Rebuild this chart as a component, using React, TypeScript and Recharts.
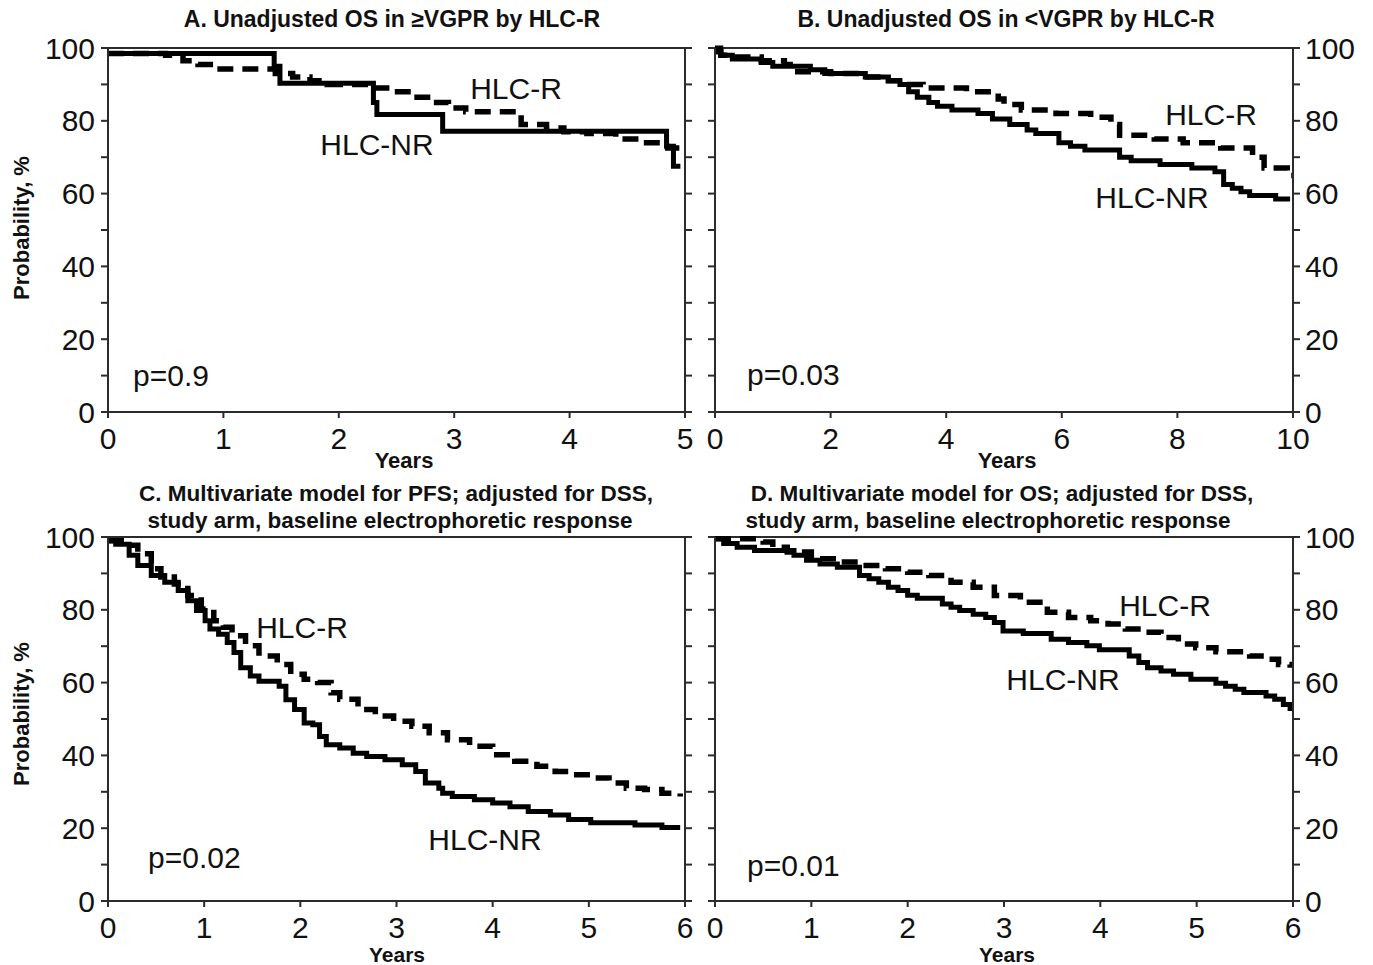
import React from 'react';
import { LineChart, Line, XAxis, YAxis, ReferenceLine } from 'recharts';

const FONT = '"Liberation Sans", Arial, Helvetica, sans-serif';
const INK = '#111';
const AXIS = '#2b2b2b';

// y ticks every 10, labels every 20
const probTicks = [0, 10, 20, 30, 40, 50, 60, 70, 80, 90, 100];
const yearTicks5 = [0, 1, 2, 3, 4, 5];
const yearTicks10 = [0, 2, 4, 6, 8, 10];
const yearTicks6 = [0, 1, 2, 3, 4, 5, 6];

// A. Unadjusted OS in >=VGPR by HLC-R
const aNrYears = [0, 1.44, 1.49, 2.3, 2.33, 2.9, 4.84, 4.9, 4.96];
const aNrProb = [98.5, 95, 90.3, 85, 81.7, 77.1, 73, 67.5, 67.5];
const aRYears = [0, 0.5, 0.65, 0.78, 0.92, 1.45, 1.6, 1.75, 1.9, 2.3, 2.45, 2.65, 2.8, 2.95, 3.1, 3.58, 3.8, 3.95, 4.15, 4.4, 4.6, 4.85, 4.97];
const aRProb = [98.5, 98, 96.5, 95.5, 94.2, 93, 92, 91, 90, 89, 88, 86.5, 85, 83.5, 82.5, 79, 78, 77, 76.5, 75, 74, 72.5, 72.5];

// B. Unadjusted OS in <VGPR by HLC-R
const bNrYears = [0, 0.1, 0.3, 0.8, 1.0, 1.65, 1.9, 2.6, 3.0, 3.2, 3.35, 3.5, 3.7, 3.85, 4.1, 4.55, 4.8, 5.1, 5.4, 5.55, 5.95, 6.15, 6.4, 7.0, 7.2, 7.7, 8.25, 8.65, 8.8, 8.95, 9.1, 9.25, 9.7, 9.95];
const bNrProb = [100, 98, 97, 96, 95, 94, 93, 92, 91, 90, 88, 86.5, 85, 84, 83, 82, 80.5, 79, 77.5, 76.5, 74, 73, 72, 70, 69, 68, 67, 66, 62.5, 61.5, 60.5, 59.5, 58.5, 58.5];
const bRYears = [0, 0.1, 0.3, 0.8, 1.2, 1.3, 2.0, 2.5, 3.0, 3.3, 3.6, 4.35, 4.9, 5.0, 5.3, 5.9, 6.5, 6.85, 7.0, 7.6, 8.1, 8.75, 9.3, 9.5, 9.9, 10];
const bRProb = [99, 98, 97.5, 96.5, 95.5, 93.5, 93, 92, 91, 90, 89, 88, 86, 84.5, 83, 82, 81, 79, 76, 75, 74, 72.5, 70, 67, 65, 65];

// C. Multivariate model for PFS
const cNrYears = [0, 0.08, 0.22, 0.31, 0.45, 0.59, 0.73, 0.83, 0.92, 1.01, 1.06, 1.15, 1.24, 1.31, 1.38, 1.48, 1.57, 1.78, 1.85, 1.94, 2.04, 2.13, 2.2, 2.27, 2.41, 2.55, 2.69, 2.88, 3.06, 3.2, 3.3, 3.44, 3.48, 3.58, 3.81, 4.0, 4.18, 4.37, 4.6, 4.79, 5.02, 5.48, 5.76, 5.95];
const cNrProb = [99, 98, 95, 92.2, 89.4, 87.6, 85.3, 82.5, 79.8, 77, 74.7, 73.3, 71, 68.3, 64.1, 61.8, 60.4, 59, 55.3, 52.6, 48.9, 48.4, 45.2, 42.9, 42, 40.6, 39.7, 38.8, 37.4, 35.6, 32.4, 31, 29.6, 28.7, 27.8, 26.9, 25.9, 24.6, 23.6, 22.4, 21.5, 20.9, 20.2, 20.2];
const cRYears = [0, 0.17, 0.31, 0.45, 0.55, 0.69, 0.83, 0.97, 1.1, 1.2, 1.29, 1.43, 1.57, 1.76, 1.9, 2.04, 2.18, 2.32, 2.41, 2.6, 2.78, 2.97, 3.16, 3.34, 3.53, 3.76, 4.0, 4.23, 4.46, 4.65, 4.83, 5.02, 5.21, 5.39, 5.58, 5.76, 5.95];
const cRProb = [99, 97.7, 95.4, 91.3, 89, 87.1, 83.9, 80.2, 77, 75.2, 72.9, 70.1, 67.3, 65, 62.3, 60.9, 60, 57.2, 55.4, 52.6, 50.8, 49.4, 48, 46.2, 44.3, 42.5, 40.2, 38.4, 37, 35.6, 34.7, 33.8, 32.4, 31, 30.6, 29.6, 28.7];

// D. Multivariate model for OS
const dNrYears = [0, 0.09, 0.23, 0.41, 0.82, 0.95, 1.09, 1.27, 1.5, 1.6, 1.7, 1.8, 1.9, 2.0, 2.1, 2.36, 2.45, 2.54, 2.68, 2.81, 2.9, 2.99, 3.2, 3.49, 3.67, 3.86, 3.99, 4.3, 4.4, 4.49, 4.63, 4.76, 4.94, 5.2, 5.3, 5.4, 5.49, 5.72, 5.81, 5.9, 5.97];
const dNrProb = [99.5, 98.2, 97.2, 96.3, 95, 93.6, 92.6, 91.7, 89.4, 88.5, 87.6, 86.2, 85.3, 84, 83.2, 81.6, 80.7, 79.8, 78.8, 77.9, 76.5, 74.2, 73.5, 71.9, 71, 70.1, 69, 67.3, 65.5, 64.1, 63.2, 62.3, 60.9, 59.8, 59, 58.2, 57.3, 56.3, 55.4, 54, 52.2];
const dRYears = [0, 0.5, 0.6, 0.75, 1.0, 1.27, 1.54, 1.77, 2.0, 2.22, 2.45, 2.68, 2.9, 3.17, 3.45, 3.67, 3.9, 4.08, 4.26, 4.44, 4.63, 4.81, 4.99, 5.2, 5.55, 5.72, 5.85, 5.97];
const dRProb = [99.5, 98.6, 97.2, 95.9, 94, 93.1, 92.2, 91.3, 90.3, 89.4, 87.6, 86.2, 83.9, 82.1, 79.3, 77.9, 77, 76.1, 74.7, 73.8, 72.4, 70.6, 69.6, 68.5, 67.3, 66.4, 65, 64.1];

type Pt = { t: number; p: number };
const zip = (t: number[], p: number[]): Pt[] => t.map((v, i) => ({ t: v, p: p[i] }));

type PanelProps = {
  x: number;
  y: number;
  w: number;
  h: number;
  maxYear: number;
  xTicks: number[];
  labelSide: 'left' | 'right';
  nr: Pt[];
  r: Pt[];
};

// one KM panel; x/y/w/h is the plot box in page pixels
const Panel = ({ x, y, w, h, maxYear, xTicks, labelSide, nr, r }: PanelProps) => {
  const pad = 70;
  const top = 20;
  const showNum = (v: number) => (v % 20 === 0 ? String(v) : '');
  const blank = () => '';
  const tickStyle = { fill: INK, fontSize: 30, fontFamily: FONT };
  const stroke = { stroke: AXIS, strokeWidth: 2 };
  return (
    <div style={{ position: 'absolute', left: x - pad, top: y - top }}>
      <LineChart width={w + pad * 2} height={h + top + 50} margin={{ top, right: 0, bottom: 0, left: 0 }}>
        <XAxis
          type="number"
          dataKey="t"
          domain={[0, maxYear]}
          ticks={xTicks}
          interval={0}
          allowDataOverflow
          height={50}
          tickSize={6}
          tickMargin={10}
          axisLine={stroke}
          tickLine={stroke}
          tick={tickStyle}
        />
        <YAxis
          yAxisId="l"
          orientation="left"
          type="number"
          domain={[0, 100]}
          ticks={probTicks}
          interval={0}
          width={pad}
          tickSize={7}
          tickMargin={6}
          axisLine={stroke}
          tickLine={stroke}
          tick={tickStyle}
          tickFormatter={labelSide === 'left' ? showNum : blank}
        />
        <YAxis
          yAxisId="r"
          orientation="right"
          type="number"
          domain={[0, 100]}
          ticks={probTicks}
          interval={0}
          width={pad}
          tickSize={7}
          tickMargin={5}
          axisLine={stroke}
          tickLine={stroke}
          tick={tickStyle}
          tickFormatter={labelSide === 'right' ? showNum : blank}
        />
        <ReferenceLine yAxisId="l" y={100} stroke={AXIS} strokeWidth={2} />
        <Line
          yAxisId="r"
          data={r}
          dataKey="p"
          type="stepAfter"
          stroke="#000"
          strokeWidth={5.5}
          strokeDasharray="16 9"
          dot={false}
          isAnimationActive={false}
        />
        <Line
          yAxisId="l"
          data={nr}
          dataKey="p"
          type="stepAfter"
          stroke="#000"
          strokeWidth={5}
          dot={false}
          isAnimationActive={false}
        />
      </LineChart>
    </div>
  );
};

const Txt = ({ x, y, size = 30, bold = false, rotate = false, anchor = 'middle', children }: any) => (
  <div
    style={{
      position: 'absolute',
      left: x,
      top: y,
      transform: `translate(${anchor === 'start' ? '0' : '-50%'}, -50%)${rotate ? ' rotate(-90deg)' : ''}`,
      fontFamily: FONT,
      fontSize: size,
      fontWeight: bold ? 700 : 400,
      lineHeight: 1,
      whiteSpace: 'nowrap',
      color: INK,
    }}
  >
    {children}
  </div>
);

export default function App() {
  return (
    <div style={{ position: 'absolute', left: 0, top: 0, width: 1373, height: 965, background: '#fff', overflow: 'hidden' }}>
      <Panel x={108} y={48} w={577} h={364} maxYear={5} xTicks={yearTicks5} labelSide="left" nr={zip(aNrYears, aNrProb)} r={zip(aRYears, aRProb)} />
      <Panel x={715} y={48} w={578} h={364} maxYear={10} xTicks={yearTicks10} labelSide="right" nr={zip(bNrYears, bNrProb)} r={zip(bRYears, bRProb)} />
      <Panel x={108} y={537} w={577} h={364} maxYear={6} xTicks={yearTicks6} labelSide="left" nr={zip(cNrYears, cNrProb)} r={zip(cRYears, cRProb)} />
      <Panel x={715} y={537} w={578} h={364} maxYear={6} xTicks={yearTicks6} labelSide="right" nr={zip(dNrYears, dNrProb)} r={zip(dRYears, dRProb)} />

      <Txt x={392} y={19} size={23} bold>A. Unadjusted OS in ≥VGPR by HLC-R</Txt>
      <Txt x={1006} y={19} size={23} bold>B. Unadjusted OS in &lt;VGPR by HLC-R</Txt>
      <Txt x={396} y={494} size={22.5} bold>C. Multivariate model for PFS; adjusted for DSS,</Txt>
      <Txt x={390} y={521} size={22.5} bold>study arm, baseline electrophoretic response</Txt>
      <Txt x={1002} y={494} size={22.5} bold>D. Multivariate model for OS; adjusted for DSS,</Txt>
      <Txt x={988} y={521} size={22.5} bold>study arm, baseline electrophoretic response</Txt>

      <Txt x={22} y={228} size={22} bold rotate>Probability, %</Txt>
      <Txt x={22} y={714} size={22} bold rotate>Probability, %</Txt>
      <Txt x={404} y={461} size={22} bold>Years</Txt>
      <Txt x={1007} y={461} size={22} bold>Years</Txt>
      <Txt x={397} y={954} size={21} bold>Years</Txt>
      <Txt x={1007} y={954} size={21} bold>Years</Txt>

      <Txt x={133} y={376} anchor="start">p=0.9</Txt>
      <Txt x={747} y={375} anchor="start">p=0.03</Txt>
      <Txt x={148} y={858} anchor="start">p=0.02</Txt>
      <Txt x={747} y={866} anchor="start">p=0.01</Txt>

      <Txt x={516} y={89}>HLC-R</Txt>
      <Txt x={377} y={145}>HLC-NR</Txt>
      <Txt x={1211} y={115}>HLC-R</Txt>
      <Txt x={1152} y={198}>HLC-NR</Txt>
      <Txt x={302} y={628}>HLC-R</Txt>
      <Txt x={485} y={840}>HLC-NR</Txt>
      <Txt x={1165} y={606}>HLC-R</Txt>
      <Txt x={1063} y={680}>HLC-NR</Txt>
    </div>
  );
}
